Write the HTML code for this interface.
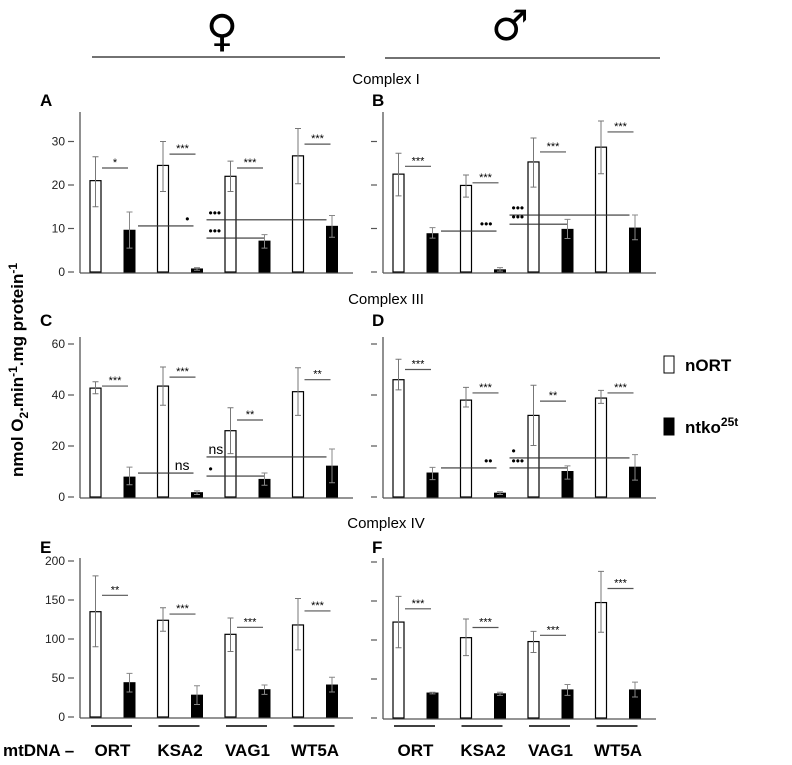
<!DOCTYPE html>
<html><head><meta charset="utf-8"><style>
html,body{margin:0;padding:0;background:#fff;}
svg{display:block;font-family:"Liberation Sans",Arial,sans-serif;}
</style></head><body>
<svg id="fig" width="792" height="765" viewBox="0 0 792 765">
<text x="222" y="46" font-size="44" text-anchor="middle" font-family="DejaVu Sans">♀</text>
<text x="510" y="40" font-size="42" text-anchor="middle" font-family="DejaVu Sans">♂</text>
<line x1="92" y1="57" x2="345" y2="57" stroke="#444" stroke-width="1.5"/>
<line x1="385" y1="58" x2="660" y2="58" stroke="#444" stroke-width="1.5"/>
<text x="386" y="84" font-size="15" text-anchor="middle">Complex I</text>
<text x="386" y="304" font-size="15" text-anchor="middle">Complex III</text>
<text x="386" y="528" font-size="15" text-anchor="middle">Complex IV</text>
<text transform="translate(23,370) rotate(-90)" font-size="17" font-weight="bold" text-anchor="middle">nmol O<tspan font-size="12" dy="5">2</tspan><tspan dy="-5">.min</tspan><tspan font-size="12" dy="-6">-1</tspan><tspan dy="6">.mg protein</tspan><tspan font-size="12" dy="-6">-1</tspan></text>
<rect x="664" y="356" width="10" height="17" fill="#fff" stroke="#000"/>
<text x="685" y="371" font-size="17" font-weight="bold">nORT</text>
<rect x="664" y="418" width="10" height="17" fill="#000" stroke="#000"/>
<text x="685" y="433" font-size="17" font-weight="bold">ntko<tspan font-size="12" dy="-7">25t</tspan></text>
<text x="3" y="756" font-size="17" font-weight="bold">mtDNA –</text>
</svg>
<script>
const categories = ["ORT","KSA2","VAG1","WT5A"];
const panelLetters = ["A","B","C","D","E","F"];
const aWhite=[21,24.5,22,26.7], aWhiteLo=[15,18.5,18.5,20.3], aWhiteHi=[26.5,30,25.5,33];
const aBlack=[9.6,0.7,7.1,10.5], aBlackLo=[5.5,0.4,5.5,8], aBlackHi=[13.8,1.0,8.6,13];
const aSig=["*","***","***","***"], aSigLevel=[23.9,27.1,23.9,29.4];
const aComp=[[0,1,10.6,"•"],[1,3,12,"•••"],[1,2,7.8,"•••"]];
const bWhite=[22.5,19.9,25.3,28.7], bWhiteLo=[17.5,17.2,19.5,22.6], bWhiteHi=[27.3,22.3,30.8,34.7];
const bBlack=[8.8,0.5,9.8,10.1], bBlackLo=[7.8,0.2,7.7,7.4], bBlackHi=[10.2,1.0,12.1,13.1];
const bSig=["***","***","***","***"], bSigLevel=[24.3,20.5,27.6,32.2];
const bComp=[[0,1,9.4,"•••"],[1,3,13.1,"•••"],[1,2,11,"•••"]];
const cWhite=[42.7,43.5,26,41.3], cWhiteLo=[40.5,36,17,32], cWhiteHi=[45.2,51,35,50.7];
const cBlack=[7.8,1.7,6.9,12.1], cBlackLo=[4.8,1,4.6,5.6], cBlackHi=[11.7,2.4,9.4,18.8];
const cSig=["***","***","**","**"], cSigLevel=[43.5,47,30.2,46];
const cComp=[[0,1,9.4,"ns"],[1,3,15.7,"ns"],[1,2,8.2,"•"]];
const dWhite=[46,38,32,38.8], dWhiteLo=[42,35.3,20.2,36.7], dWhiteHi=[54,43,43.8,41.8];
const dBlack=[9.4,1.5,10,11.7], dBlackLo=[6.8,1,7,6.6], dBlackHi=[11.6,2.1,12.2,16.6];
const dSig=["***","***","**","***"], dSigLevel=[50,40.8,37.6,40.8];
const dComp=[[0,1,11.4,"••"],[1,3,15.3,"•"],[1,2,11.4,"•••"]];
const eWhite=[135,124,106,118], eWhiteLo=[90,110,84,86], eWhiteHi=[181,140,127,152];
const eBlack=[44,28,35,41], eBlackLo=[32,16,29,32], eBlackHi=[56,40,41,51];
const eSig=["**","***","***","***"], eSigLevel=[156,132,115,136];
const fWhite=[123,103,98,148], fWhiteLo=[90,80,84,110], fWhiteHi=[156,127,111,188];
const fBlack=[32,31,36,36], fBlackLo=[31,29,29,27], fBlackHi=[33,33,43,46];
const fSig=["***","***","***","***"], fSigLevel=[140,116,106,166];
const ticksI=[0,10,20,30], ticksIII=[0,20,40,60], ticksIV=[0,50,100,150,200];

const NS="http://www.w3.org/2000/svg";
const svg=document.getElementById("fig");
function mk(tag,attrs,parent){const e=document.createElementNS(NS,tag);for(const k in attrs)e.setAttribute(k,attrs[k]);(parent||svg).appendChild(e);return e;}

const panels=[
 {L:"A",ax:80,base:272,top:112,pxPer:4.35,ticks:ticksI,labels:true,w:aWhite,wl:aWhiteLo,wh:aWhiteHi,b:aBlack,bl:aBlackLo,bh:aBlackHi,sig:aSig,sl:aSigLevel,comp:aComp,ly:106,lx:40},
 {L:"B",ax:383,base:272,top:112,pxPer:4.35,ticks:ticksI,labels:false,w:bWhite,wl:bWhiteLo,wh:bWhiteHi,b:bBlack,bl:bBlackLo,bh:bBlackHi,sig:bSig,sl:bSigLevel,comp:bComp,ly:106,lx:372},
 {L:"C",ax:80,base:497,top:337,pxPer:2.55,ticks:ticksIII,labels:true,w:cWhite,wl:cWhiteLo,wh:cWhiteHi,b:cBlack,bl:cBlackLo,bh:cBlackHi,sig:cSig,sl:cSigLevel,comp:cComp,ly:326,lx:40},
 {L:"D",ax:383,base:497,top:337,pxPer:2.55,ticks:ticksIII,labels:false,w:dWhite,wl:dWhiteLo,wh:dWhiteHi,b:dBlack,bl:dBlackLo,bh:dBlackHi,sig:dSig,sl:dSigLevel,comp:dComp,ly:326,lx:372},
 {L:"E",ax:80,base:717,top:558,pxPer:0.78,ticks:ticksIV,labels:true,w:eWhite,wl:eWhiteLo,wh:eWhiteHi,b:eBlack,bl:eBlackLo,bh:eBlackHi,sig:eSig,sl:eSigLevel,comp:[],ly:553,lx:40,bottom:true},
 {L:"F",ax:383,base:718,top:558,pxPer:0.78,ticks:ticksIV,labels:false,w:fWhite,wl:fWhiteLo,wh:fWhiteHi,b:fBlack,bl:fBlackLo,bh:fBlackHi,sig:fSig,sl:fSigLevel,comp:[],ly:553,lx:372,bottom:true}
];

panels.forEach(p=>{
 const g=mk("g",{});
 
 
 const y=v=>p.base-v*p.pxPer;
 const wx=i=>p.ax+10+i*67.5;
 const bx=i=>p.ax+44+i*67.5;
 const BW=11;
 const lt=mk("text",{x:p.lx,y:p.ly,"font-size":17,"font-weight":"bold"},g);lt.textContent=p.L;
 
 
 const ya=mk("line",{x1:p.ax,y1:p.top,x2:p.ax,y2:p.base+1,stroke:"#555","stroke-width":1.3},g);
 
 
 const xa=mk("line",{x1:p.ax,y1:p.base+1,x2:p.ax+273,y2:p.base+1,stroke:"#555","stroke-width":1.3},g);
 
 
 p.ticks.forEach(t=>{
  const tk=mk("line",{x1:p.ax-12,y1:y(t),x2:p.ax-6,y2:y(t),stroke:"#555","stroke-width":1.2},g);
  
  
  if(p.labels){const tl=mk("text",{x:p.ax-15,y:y(t)+4,"font-size":12,"text-anchor":"end",fill:"#222"},g);tl.textContent=t;
   
   }
 });
 categories.forEach((c,i)=>{
  const r1=mk("rect",{x:wx(i),y:y(p.w[i]),width:BW,height:p.base-y(p.w[i]),fill:"#fff",stroke:"#000","stroke-width":1.2},g);
  
  
  const r2=mk("rect",{x:bx(i),y:y(p.b[i]),width:BW,height:p.base-y(p.b[i]),fill:"#000",stroke:"#000","stroke-width":1},g);
  
  
  [[wx(i),p.wl[i],p.wh[i],"#777"],[bx(i),p.bl[i],p.bh[i],"#888"]].forEach(e=>{
   const cx=e[0]+BW/2;
   const eb=mk("path",{d:`M${cx},${y(e[1])}V${y(e[2])}M${cx-3},${y(e[1])}h6M${cx-3},${y(e[2])}h6`,stroke:e[3],"stroke-width":1,fill:"none"},g);
   
   
  });
  const sy=y(p.sl[i]);
  const sl=mk("line",{x1:wx(i)+BW+1,y1:sy,x2:bx(i)+4,y2:sy,stroke:"#555","stroke-width":1.2},g);
  
  
  const st=mk("text",{x:(wx(i)+BW+bx(i)+5)/2,y:sy-2,"font-size":11,"text-anchor":"middle"},g);st.textContent=p.sig[i];
  
  
  if(p.bottom){
   const gl=mk("line",{x1:wx(i)+1,y1:726,x2:bx(i)+BW-3,y2:726,stroke:"#000","stroke-width":1.5},g);
   
   
   const cl=mk("text",{x:(wx(i)+bx(i)+BW)/2,y:756,"font-size":17,"font-weight":"bold","text-anchor":"middle"},g);cl.textContent=c;
   
   
  }
 });
 p.comp.forEach(cm=>{
  const a=cm[0],b=cm[1],cy=y(cm[2]);
  let x1,x2,tx,anchor;
  if(b===1){x1=bx(a)+BW+3;x2=bx(b)+2;tx=x2-4;anchor="end";}
  else{x1=bx(1)+BW+4;x2=bx(b)+(b===3?0:5);tx=x1+2;anchor="start";}
  const cl=mk("line",{x1:x1,y1:cy,x2:x2,y2:cy,stroke:"#333","stroke-width":1.1},g);
  
  
  const ct=mk("text",{x:tx,y:cy-3,"font-size":cm[3]==="ns"?14:12,"text-anchor":anchor},g);ct.textContent=cm[3];
  
  
 });
});
</script>
</body></html>
